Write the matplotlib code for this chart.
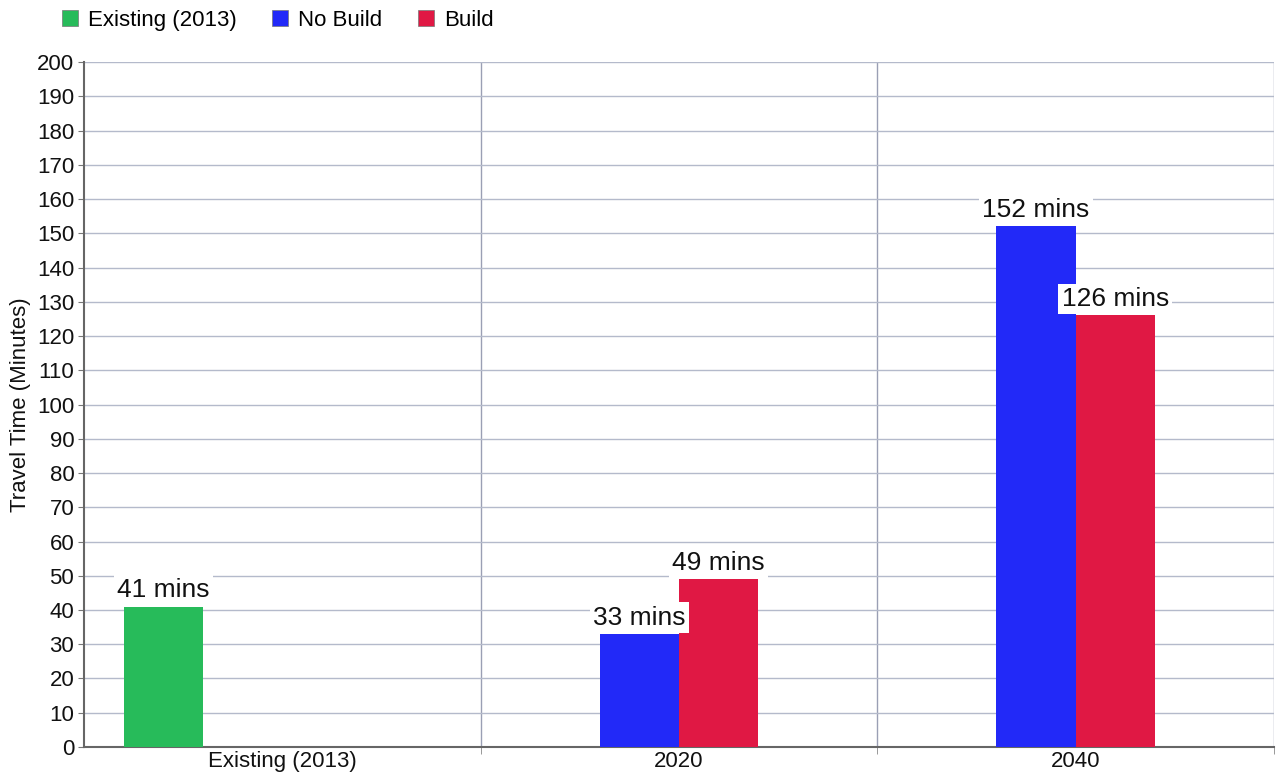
import matplotlib
matplotlib.use("Agg")
import matplotlib.pyplot as plt
from matplotlib.patches import Patch

plt.rcParams['font.family'] = ['Liberation Sans', 'DejaVu Sans']

categories = ["Existing (2013)", "2020", "2040"]
series_names = ["Existing (2013)", "No Build", "Build"]
colors = ["#27BB5A", "#2229F8", "#E01844"]
values = {
    "Existing (2013)": [41, None, None],
    "No Build": [None, 33, 152],
    "Build": [None, 49, 126],
}
offsets = [-0.3, -0.1, 0.1]
bar_w = 0.2

fig = plt.figure(figsize=(12.77, 7.76), dpi=100)
ax = fig.add_axes([0.0658, 0.0374, 0.9319, 0.8826])

for s, name in enumerate(series_names):
    for i, v in enumerate(values[name]):
        if v is None:
            continue
        x = i + offsets[s]
        ax.bar(x, v, width=bar_w, color=colors[s], zorder=3, linewidth=0)
        ax.text(x, v + 1.3, f"{v} mins", ha='center', va='bottom', fontsize=19,
                color='#111111', zorder=5,
                bbox=dict(facecolor='white', edgecolor='none', pad=2.5))

ax.set_xlim(-0.5, 2.5)
ax.set_ylim(0, 200)
ax.set_yticks(range(0, 201, 10))
ax.set_xticks(range(3))
ax.set_xticklabels(categories)
ax.set_xticks([0.5, 1.5, 2.5], minor=True)
ax.tick_params(axis='x', which='major', length=0, labelsize=16, pad=3,
               labelcolor='#111111')
ax.tick_params(axis='x', which='minor', length=5, color='#888888')
ax.tick_params(axis='y', labelsize=16, length=4, color='#777777', pad=3,
               labelcolor='#111111')
ax.grid(axis='y', color='#B4BACB', linewidth=1, zorder=0)
ax.grid(axis='x', which='minor', color='#9A9FB4', linewidth=1, zorder=0)
for sp in ['top', 'right']:
    ax.spines[sp].set_visible(False)
ax.spines['left'].set_color('#666666')
ax.spines['bottom'].set_color('#666666')
ax.spines['left'].set_linewidth(1.5)
ax.spines['bottom'].set_linewidth(1.5)
ax.set_ylabel("Travel Time (Minutes)", fontsize=16, labelpad=4, color='#111111')

handles = [Patch(facecolor=c, edgecolor='#777777', linewidth=0.5) for c in colors]
fig.legend(handles, series_names, loc='upper left', bbox_to_anchor=(0.0325, 1.013),
           ncol=3, frameon=False, fontsize=16, handlelength=0.72, handleheight=0.72,
           handletextpad=0.45, columnspacing=1.62)

fig.savefig("out.png", dpi=100, facecolor='white')
